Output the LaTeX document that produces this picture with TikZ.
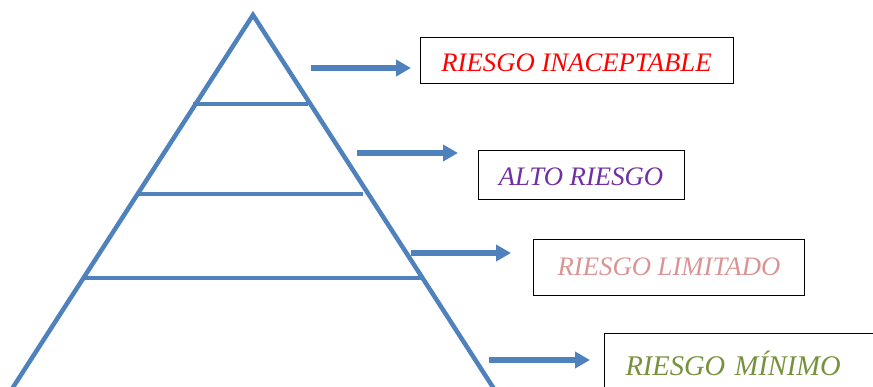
\documentclass[tikz,border=0pt]{standalone}
\usepackage{fontspec}
\setmainfont{Liberation Serif}
\usetikzlibrary{arrows.meta}
\definecolor{pblue}{HTML}{4F81BD}
\definecolor{rred}{HTML}{FF0000}
\definecolor{rpurple}{HTML}{7030A0}
\definecolor{rpink}{HTML}{D99594}
\definecolor{rgreen}{HTML}{76923C}
\tikzset{
  pyr/.style={draw=pblue, line width=4.5pt, line cap=butt},
  arr/.style={draw=pblue, line width=5.5pt, -{Triangle[length=15pt,width=16pt]}},
  lbox/.style={draw=black, line width=1pt, rectangle, inner sep=0pt,
    font=\fontsize{26.7}{30}\selectfont\itshape},
  lowtext/.style={text height=22.6pt, text depth=0pt},
}
\begin{document}
\begin{tikzpicture}[x=1pt,y=-1pt]
\useasboundingbox (0,0) rectangle (873,386);
\clip (0,0) rectangle (873,386);
% pyramid
\coordinate (apex) at (253,15);
\coordinate (bl2) at (-10,423);
\coordinate (br2) at (516,423);
\draw[pyr, line join=miter] (bl2) -- (apex) -- (br2);
\coordinate (l1a) at (193,104); \coordinate (l1b) at (308,104);
\coordinate (l2a) at (139,194); \coordinate (l2b) at (363,194);
\coordinate (l3a) at (85,278); \coordinate (l3b) at (421,278);
\draw[pyr] (l1a) -- (l1b);
\draw[pyr] (l2a) -- (l2b);
\draw[pyr] (l3a) -- (l3b);
% boxes
\node[lbox, lowtext, minimum width=313pt, minimum height=46pt, text=rred] (b1) at (576.5,60) {RIESGO INACEPTABLE};
\node[lbox, lowtext, minimum width=206pt, minimum height=49pt, text=rpurple] (b2) at (581,174.5) {ALTO RIESGO};
\node[lbox, minimum width=271pt, minimum height=56pt, text=rpink] (b3) at (669,267) {RIESGO LIMITADO};
\node[lbox, anchor=north west, minimum width=300pt, minimum height=60pt, text width=258pt, inner xsep=21pt, align=left, text=rgreen, font=\fontsize{28.5}{32}\selectfont\itshape] (b4) at (604,333) {RIESGO MÍNIMO};
% arrows
\coordinate (a1s) at (311,68); \coordinate (a1e) at (411,68);
\coordinate (a2s) at (357,153); \coordinate (a2e) at (458,153);
\coordinate (a3s) at (411,253); \coordinate (a3e) at (511,253);
\coordinate (a4s) at (489,360); \coordinate (a4e) at (590,360);
\draw[arr] (a1s) -- (a1e);
\draw[arr] (a2s) -- (a2e);
\draw[arr] (a3s) -- (a3e);
\draw[arr] (a4s) -- (a4e);
\end{tikzpicture}
\end{document}
